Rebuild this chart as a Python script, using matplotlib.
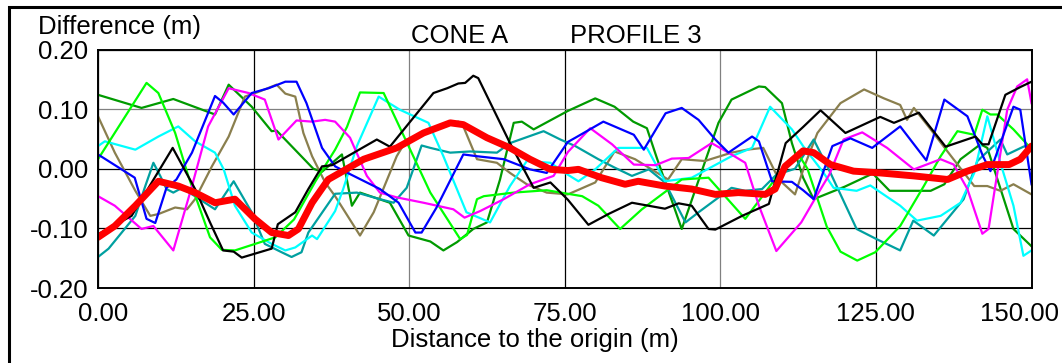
import numpy as np
import matplotlib
matplotlib.use("Agg")
import matplotlib.pyplot as plt
import matplotlib.transforms as mtransforms
from matplotlib.patches import Rectangle

plt.rcParams['font.family'] = ['Liberation Sans', 'DejaVu Sans']
plt.rcParams['axes.unicode_minus'] = False

# profile differences (m)
black_x = [0, 5.4, 12.0, 15.6, 18.0, 20.1, 21.8, 23.1, 27.9, 28.9, 31.7, 33.8, 36.0, 37.6, 44.8, 46.9, 53.9, 56.1,
           57.9, 59.0, 60.3, 61.1, 66.2, 70.0, 72.7, 75.5, 78.8, 82.0, 85.8, 91.1, 93.3, 95.4, 98.1, 99.2, 103.5,
           107.8, 110.5, 113.3, 116.1, 120.1, 125.7, 127.9, 131.9, 136.2, 141.0, 142.1, 143.1, 145.8, 148.2, 150]
black_y = [-0.11, -0.079, 0.035, -0.034, -0.09, -0.137, -0.139, -0.149, -0.134, -0.093, -0.073, -0.034, 0.004,
           0.006, 0.049, 0.037, 0.127, 0.135, 0.143, 0.144, 0.156, 0.152, 0.043, -0.032, -0.023, -0.052, -0.094,
           -0.076, -0.057, -0.067, -0.058, -0.062, -0.101, -0.102, -0.079, -0.059, 0.043, 0.07, 0.098, 0.06, 0.087,
           0.077, 0.094, 0.037, 0.054, 0.041, 0.041, 0.124, 0.137, 0.146]

blue_x = [0, 5.9, 7.8, 9.2, 11.0, 12.6, 15.1, 18.8, 20.1, 21.8, 24.7, 27.4, 30.1, 31.9, 33.5, 36.0, 38.1, 40.5, 45.3,
          48.3, 51.0, 52.0, 54.4, 58.7, 60.9, 65.2, 69.4, 72.1, 75.5, 76.7, 81.2, 86.1, 87.7, 91.2, 93.8, 96.5, 99.2,
          101.3, 105.1, 106.2, 108.3, 111.5, 113.3, 115.0, 118.0, 120.9, 124.4, 128.9, 133.1, 136.0, 139.7, 142.2,
          143.4, 147.1, 148.2, 150]
blue_y = [0.024, -0.015, -0.084, -0.091, -0.032, -0.018, 0.027, 0.122, 0.111, 0.091, 0.127, 0.135, 0.146, 0.146, 0.11,
          0.035, 0.004, -0.009, -0.034, -0.057, -0.107, -0.107, -0.065, 0.024, 0.021, 0.016, -0.001, -0.007, 0.045,
          0.052, 0.079, 0.057, 0.032, 0.093, 0.102, 0.082, 0.049, 0.027, 0.054, 0.046, -0.021, -0.022, -0.036, -0.051,
          0.038, 0.051, 0.035, 0.071, 0.014, 0.116, 0.088, 0.021, -0.004, 0.104, 0.099, -0.026]

lime_x = [0, 7.8, 9.7, 12.4, 14.5, 18.0, 19.9, 22.0, 28.5, 31.5, 35.0, 38.1, 40.0, 42.1, 45.9, 49.9, 53.4, 58.2, 59.3,
          60.9, 62.0, 66.8, 72.1, 75.5, 77.8, 80.4, 83.9, 87.4, 90.6, 93.8, 98.1, 104.0, 107.2, 110.0, 112.8, 114.0,
          117.1, 119.3, 122.0, 124.9, 128.9, 132.7, 135.4, 138.1, 140.8, 142.1, 143.4, 144.5, 147.1, 150]
lime_y = [0.016, 0.144, 0.127, 0.06, -0.012, -0.115, -0.136, -0.137, -0.115, -0.085, -0.02, 0.032, 0.07, 0.128, 0.127,
          0.038, -0.04, -0.118, -0.111, -0.051, -0.046, -0.04, -0.036, -0.042, -0.046, -0.062, -0.101, -0.068, -0.043,
          -0.018, -0.015, -0.084, -0.04, 0.0, 0.02, 0.0, -0.097, -0.139, -0.154, -0.14, -0.096, -0.029, 0.021, 0.063,
          0.057, 0.099, 0.091, 0.091, 0.066, 0.033]

green_x = [0, 7.0, 12.1, 18.8, 21.0, 24.7, 27.9, 28.7, 34.6, 36.0, 39.2, 40.8, 42.1, 46.9, 49.9, 53.4, 55.5, 57.7,
           60.3, 62.5, 64.6, 66.8, 68.1, 70.0, 75.5, 79.9, 83.0, 86.0, 88.2, 89.8, 93.8, 99.7, 101.8, 106.2, 107.2,
           109.9, 111.5, 113.3, 115.0, 120.0, 124.5, 127.2, 133.8, 136.0, 138.6, 141.8, 142.9, 147.1, 150]
green_y = [0.124, 0.102, 0.117, 0.091, 0.141, 0.104, 0.063, 0.064, 0.0, -0.005, 0.024, -0.062, -0.04, -0.057, -0.112,
           -0.122, -0.137, -0.123, -0.101, -0.09, -0.018, 0.077, 0.079, 0.066, 0.097, 0.118, 0.104, 0.079, 0.068,
           0.018, -0.101, 0.077, 0.116, 0.138, 0.137, 0.11, 0.043, -0.015, -0.051, -0.03, -0.008, -0.037, -0.037,
           -0.026, 0.016, 0.041, 0.035, -0.101, -0.13]

cyan_x = [0, 1.1, 6.0, 9.7, 12.9, 15.6, 18.8, 20.2, 22.0, 24.7, 27.9, 30.1, 31.7, 34.4, 35.2, 38.1, 39.4, 41.6, 45.1,
          48.5, 53.1, 55.5, 59.2, 63.0, 66.2, 68.9, 72.7, 75.5, 77.2, 79.9, 83.6, 88.2, 91.1, 95.4, 101.8, 105.1,
          108.0, 111.5, 113.3, 116.6, 118.2, 121.9, 124.1, 128.9, 131.6, 135.4, 138.6, 140.8, 142.9, 145.0, 147.1,
          148.7, 150]
cyan_y = [0.038, 0.046, 0.032, 0.054, 0.071, 0.046, 0.027, -0.001, -0.062, -0.107, -0.126, -0.137, -0.132, -0.112,
          -0.118, -0.071, -0.034, 0.038, 0.121, 0.099, 0.077, 0.021, -0.073, -0.09, -0.029, 0.013, 0.01, -0.01,
          -0.021, -0.001, 0.035, 0.035, -0.021, -0.015, 0.021, 0.035, 0.104, 0.066, 0.038, -0.007, -0.032, -0.037,
          -0.028, -0.062, -0.087, -0.079, -0.057, -0.007, 0.088, 0.01, -0.062, -0.146, -0.137]

teal_x = [0, 1.7, 6.0, 7.6, 8.9, 10.0, 11.0, 12.1, 13.5, 18.8, 21.8, 24.7, 26.8, 29.5, 31.1, 32.7, 33.8, 38.1, 41.6,
          45.3, 47.5, 49.6, 52.0, 53.4, 56.6, 59.8, 64.1, 66.2, 71.6, 74.3, 76.7, 80.4, 83.0, 85.8, 88.5, 91.1, 94.4,
          96.5, 101.8, 104.0, 106.7, 109.0, 112.0, 115.0, 117.7, 121.9, 125.1, 128.9, 131.0, 134.3, 139.1, 141.3,
          145.0, 146.1, 148.7, 150]
teal_y = [-0.148, -0.134, -0.079, -0.029, 0.01, -0.012, -0.034, -0.04, -0.032, -0.068, -0.021, -0.073, -0.126, -0.14,
          -0.148, -0.14, -0.107, -0.042, -0.04, -0.051, -0.057, -0.032, 0.039, 0.035, 0.027, 0.029, 0.027, 0.043,
          0.063, 0.049, 0.038, 0.016, 0.002, -0.012, -0.001, -0.023, -0.09, -0.073, -0.032, -0.037, -0.034, -0.01,
          0.0, 0.049, -0.007, -0.101, -0.118, -0.137, -0.087, -0.112, -0.051, 0.013, 0.049, 0.024, 0.037, 0.041]

magenta_x = [0, 2.7, 7.0, 8.9, 12.1, 15.1, 17.7, 21.0, 24.2, 26.8, 29.0, 31.9, 34.4, 36.5, 38.1, 40.5, 43.2, 45.3,
             48.0, 52.3, 57.1, 58.9, 61.4, 65.2, 69.4, 73.2, 75.5, 79.1, 82.6, 86.1, 89.6, 92.2, 94.9, 98.6, 101.3,
             104.0, 106.2, 109.0, 113.0, 115.5, 117.5, 119.8, 122.8, 126.8, 131.1, 135.4, 137.5, 139.7, 142.1, 143.1,
             146.1, 147.7, 149.3, 150]
magenta_y = [-0.046, -0.062, -0.101, -0.096, -0.137, -0.029, 0.071, 0.135, 0.127, 0.116, 0.049, 0.081, 0.079, 0.082,
             0.079, 0.052, -0.012, -0.04, -0.048, -0.057, -0.068, -0.082, -0.071, -0.051, -0.026, -0.012, 0.028,
             0.068, 0.041, 0.007, 0.006, 0.017, 0.018, 0.043, 0.027, 0.01, -0.062, -0.138, -0.09, -0.045, -0.01,
             0.049, 0.061, 0.035, -0.001, 0.016, 0.007, -0.034, -0.109, -0.101, 0.099, 0.138, 0.15, 0.11]

olive_x = [0, 2.7, 6.0, 8.4, 9.7, 12.4, 14.3, 15.6, 18.3, 21.0, 23.6, 25.8, 28.7, 30.1, 31.7, 33.0, 34.4, 36.5, 38.1,
           42.1, 44.3, 48.0, 49.6, 53.4, 57.9, 58.7, 60.9, 64.1, 66.2, 68.9, 72.1, 75.5, 79.9, 83.0, 86.3, 91.6, 93.8,
           97.5, 101.8, 104.3, 106.9, 109.4, 112.0, 113.5, 115.6, 119.3, 123.1, 126.3, 128.9, 130.0, 131.1, 133.8,
           136.5, 140.8, 142.9, 145.0, 147.1, 150]
olive_y = [0.088, 0.027, -0.037, -0.079, -0.076, -0.065, -0.068, -0.051, 0.004, 0.054, 0.121, 0.129, 0.141, 0.126,
           0.121, 0.06, 0.021, -0.023, -0.046, -0.112, -0.073, 0.021, 0.049, 0.063, 0.079, 0.071, 0.016, 0.01, -0.007,
           -0.026, -0.04, -0.043, -0.023, 0.029, 0.016, -0.018, 0.016, 0.013, 0.027, 0.032, 0.035, -0.018, -0.043,
           0.004, 0.06, 0.11, 0.133, 0.118, 0.107, 0.082, 0.102, 0.066, 0.029, -0.029, -0.029, -0.037, -0.026, -0.043]

mean_x = [0, 2.7, 6.0, 9.7, 12.9, 15.6, 18.8, 22.0, 25.2, 27.9, 30.6, 32.2, 34.4, 37.0, 42.7, 48.0, 52.3, 56.6, 58.7,
          62.5, 66.2, 69.4, 72.7, 75.5, 77.2, 80.9, 84.7, 86.8, 91.1, 95.4, 99.2, 102.9, 107.2, 108.8, 110.4, 113.3,
          115.0, 117.7, 121.4, 125.7, 131.1, 136.5, 139.7, 142.9, 146.4, 148.2, 150]
mean_y = [-0.115, -0.096, -0.062, -0.021, -0.029, -0.04, -0.057, -0.051, -0.084, -0.107, -0.112, -0.101, -0.057, -0.018,
          0.016, 0.035, 0.06, 0.077, 0.074, 0.052, 0.035, 0.016, -0.001, -0.003, -0.001, -0.015, -0.026, -0.021,
          -0.029, -0.034, -0.043, -0.04, -0.043, -0.034, 0.004, 0.03, 0.027, 0.007, -0.004, -0.007, -0.012, -0.018,
          -0.004, 0.007, 0.007, 0.016, 0.038]

x_ticks = [0, 25, 50, 75, 100, 125, 150]
y_ticks = [-0.2, -0.1, 0.0, 0.1, 0.2]

fig = plt.figure(figsize=(10.62, 3.63), dpi=100)
ax = fig.add_axes([98/1062, 1 - 288/363, 933.5/1062, 238.5/363])

series = [(green_x, green_y, '#009a00'), (olive_x, olive_y, '#8a7f4e'), (teal_x, teal_y, '#00a0a0'),
          (cyan_x, cyan_y, '#00ffff'), (lime_x, lime_y, '#00ff00'), (magenta_x, magenta_y, '#ff00ff'),
          (blue_x, blue_y, '#0000ff'), (black_x, black_y, '#000000')]
for xs, ys, c in series:
    ax.plot(xs, ys, color=c, lw=1.6, zorder=3)
ax.plot(mean_x, mean_y, color='#ff0000', lw=5, solid_capstyle='round', zorder=4)

ax.set_xlim(0, 150)
ax.set_ylim(-0.2, 0.2)
ax.set_xticks(x_ticks)
ax.set_yticks(y_ticks)
ax.set_xticklabels(['%.2f' % v for v in x_ticks])
ax.set_yticklabels(['%.2f' % v for v in y_ticks])
ax.tick_params(length=0, labelsize=18.5, colors='black')
ax.tick_params(axis='x', pad=10)
ax.tick_params(axis='y', pad=7)

ax.grid(True, color='black', lw=0.9, zorder=1)
for i, gl in enumerate(ax.xaxis.get_gridlines()):
    if x_ticks[i] in (50, 100):
        gl.set_color('#808080')
for i, gl in enumerate(ax.yaxis.get_gridlines()):
    if abs(y_ticks[i] - 0.1) < 1e-9:
        gl.set_color('#808080')
for s in ax.spines.values():
    s.set_linewidth(1.4)
    s.set_zorder(5)

labs = ax.get_xticklabels()
labs[0].set_transform(labs[0].get_transform() + mtransforms.ScaledTranslation(0.05, 0, fig.dpi_scale_trans))
labs[-1].set_transform(labs[-1].get_transform() + mtransforms.ScaledTranslation(-0.12, 0, fig.dpi_scale_trans))

fig.text(38/1062, 1 - 34/363, 'Difference (m)', fontsize=18.5, va='baseline')
fig.text(411/1062, 1 - 43/363, 'CONE A', fontsize=18.5, va='baseline')
fig.text(570/1062, 1 - 43/363, 'PROFILE 3', fontsize=18.5, va='baseline')
fig.text(535/1062, 1 - 347/363, 'Distance to the origin (m)', fontsize=18.5, ha='center', va='baseline')

fig.add_artist(Rectangle((9/1062, -0.5), 2, 1 - 7/363 + 0.5, transform=fig.transFigure,
                         fill=False, edgecolor='black', lw=2.2, clip_on=False))

fig.savefig('out.png', dpi=100)
